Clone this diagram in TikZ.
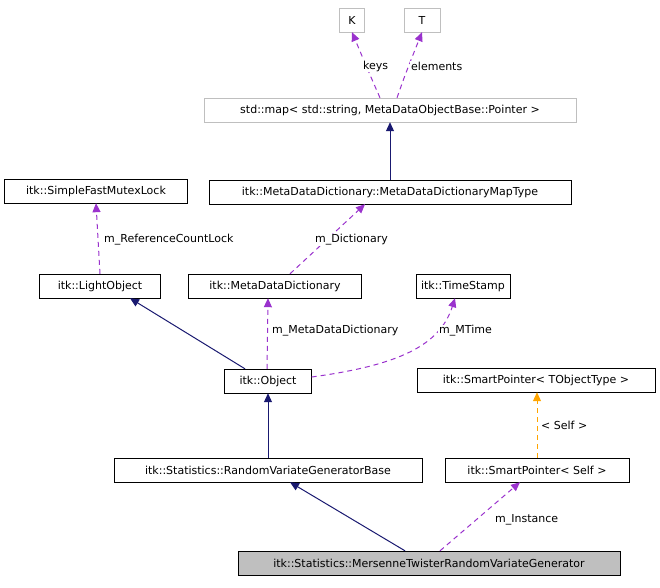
\documentclass[tikz,border=0pt]{standalone}
\usepackage{fontspec}
\setmainfont{DejaVu Sans}
\usetikzlibrary{arrows.meta}
\definecolor{purp}{HTML}{9A32CD}
\definecolor{navy}{HTML}{191970}
\definecolor{orng}{HTML}{FFA500}
\definecolor{lgray}{HTML}{BFBFBF}
\begin{document}
\begin{tikzpicture}[x=1pt,y=-1pt,
  every node/.style={font=\fontsize{11}{13}\selectfont},
  box/.style={draw=black,fill=white,minimum height=24pt,inner xsep=4pt,inner ysep=0pt},
  gbox/.style={box,draw=lgray},
  inh/.style={draw=navy,-{Triangle[length=9pt,width=8pt]},line width=1pt},
  use/.style={draw=purp,dash pattern=on 5pt off 4pt,-{Triangle[length=9pt,width=8pt]},line width=1pt},
  tmpl/.style={draw=orng,dash pattern=on 5pt off 4pt,-{Triangle[length=9pt,width=8pt]},line width=1pt},
  lbl/.style={fill=white,inner sep=1pt}]
\useasboundingbox (0,0) rectangle (660,587);
\node[gbox,minimum width=25pt] (K) at (352,20) {K};
\node[gbox,minimum width=36pt] (T) at (422,20) {T};
\node[gbox,minimum width=372pt] (map) at (390,110) {std::map< std::string, MetaDataObjectBase::Pointer >};
\node[box,minimum width=183pt] (mutex) at (96,191) {itk::SimpleFastMutexLock};
\node[box,minimum width=362pt] (mdt) at (390,192) {itk::MetaDataDictionary::MetaDataDictionaryMapType};
\node[box,minimum width=121pt] (lo) at (100,286) {itk::LightObject};
\node[box,minimum width=173pt] (mdd) at (275,286) {itk::MetaDataDictionary};
\node[box,minimum width=94pt] (ts) at (463,286) {itk::TimeStamp};
\node[box,minimum width=87pt] (obj) at (268,381) {itk::Object};
\node[box,minimum width=238pt] (spt) at (536,380) {itk::SmartPointer< TObjectType >};
\node[box,minimum width=308pt] (rvg) at (268,470) {itk::Statistics::RandomVariateGeneratorBase};
\node[box,minimum width=184pt] (sps) at (537,470) {itk::SmartPointer< Self >};
\node[box,fill=lgray,minimum width=382pt] (mt) at (429,563) {itk::Statistics::MersenneTwisterRandomVariateGenerator};

\draw[use] (map.north -| 380,0) .. controls (370,75) .. (K.south);
\node[lbl,anchor=west] at (362,66) {keys};
\draw[use] (map.north -| 397,0) .. controls (405,75) .. (T.south);
\node[lbl,anchor=west] at (410,66) {elements};
\draw[inh] (mdt.north) -- (map.south);
\draw[use] (mdd.north -| 290,0) -- (mdt.south -| 365,0);
\node[lbl,anchor=west] at (314,240) {m\_Dictionary};
\draw[use] (lo.north) -- (mutex.south);
\node[lbl,anchor=west] at (103,240) {m\_ReferenceCountLock};
\draw[inh] (obj.north -| 245,0) -- (lo.south -| 130,0);
\draw[use] (obj.north -| 267,0) -- (mdd.south -| 268,0);
\node[lbl,anchor=west] at (271,331) {m\_MetaDataDictionary};
\draw[use] (obj.east |- 0,377) .. controls (400,365) and (440,345) .. (ts.south -| 455,0);
\node[lbl,anchor=west] at (438,331) {m\_MTime};
\draw[inh] (rvg.north) -- (obj.south);
\draw[inh] (mt.north -| 405,0) -- (rvg.south -| 290,0);
\draw[use] (mt.north -| 440,0) -- (sps.south -| 520,0);
\node[lbl,anchor=west] at (494,520) {m\_Instance};
\draw[tmpl] (sps.north) -- (spt.south -| 537,0);
\node[lbl,anchor=west] at (540,425) {< Self >};
\end{tikzpicture}
\end{document}
